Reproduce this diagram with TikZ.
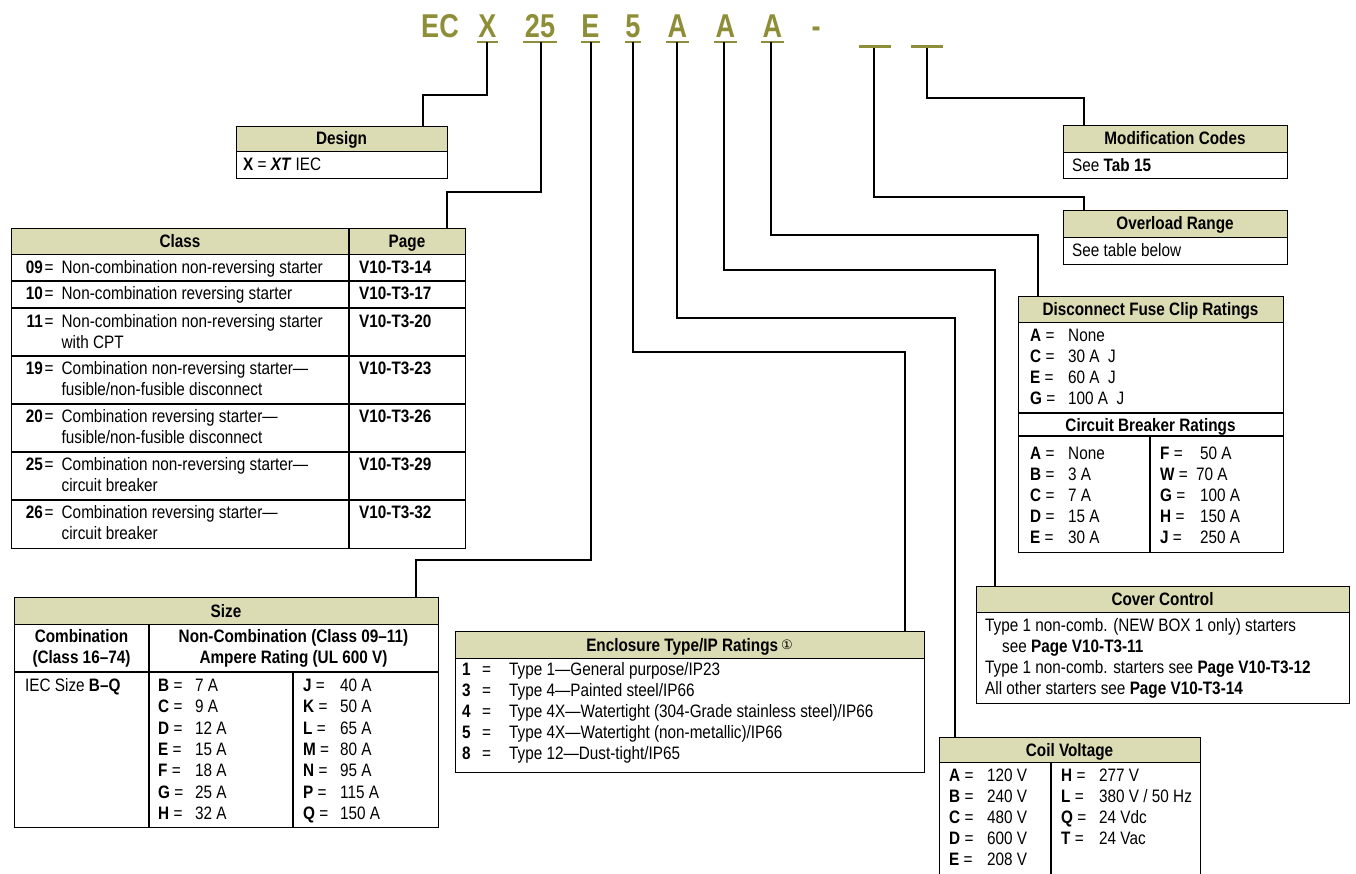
\documentclass[tikz,border=0pt]{standalone}
\usepackage{fontspec}
\setmainfont[FakeStretch=0.85]{Liberation Sans}
\newfontfamily\titlefont[FakeStretch=0.82]{Liberation Sans}
\newfontfamily\symfont{DejaVu Sans}
\definecolor{titleolive}{RGB}{142,142,56}
\definecolor{hdrfill}{RGB}{220,220,180}
\begin{document}
\begin{tikzpicture}[x=1pt,y=-1pt,
  conn/.style={line width=2pt},
  rule/.style={line width=1.1pt},
  frame/.style={draw, line width=1.1pt, inner sep=0pt, anchor=north west},
  hdr/.style={draw, fill=hdrfill, line width=1.1pt, inner sep=0pt, anchor=north west},
  txt/.style={anchor=base west, inner sep=0pt, font=\fontsize{18}{21}\selectfont},
  txte/.style={anchor=base east, inner sep=0pt, font=\bfseries\fontsize{18}{21}\selectfont},
  hd/.style={anchor=base, inner sep=0pt, font=\bfseries\fontsize{18}{21}\selectfont},
  ttl/.style={anchor=base, inner sep=0pt, text=titleolive, font=\titlefont\bfseries\fontsize{33}{33}\selectfont},
  uline/.style={draw=titleolive, line width=2.5pt},
  blank/.style={draw=titleolive, line width=3pt}]
\useasboundingbox (0,0) rectangle (1356,874);
\fill[white] (0,0) rectangle (1356,874);

% ---------- title ----------
\node[ttl] (tEC) at (440,37.5) {EC};
\node[ttl] (tX) at (487.5,37.5) {X};
\node[ttl] (t25) at (540,37.5) {25};
\node[ttl] (tE) at (590.5,37.5) {E};
\node[ttl] (t5) at (633,37.5) {5};
\node[ttl] (tA1) at (677.5,37.5) {A};
\node[ttl] (tA2) at (725.5,37.5) {A};
\node[ttl] (tA3) at (772.5,37.5) {A};
\node[ttl] (tdash) at (816,37.5) {-};
\draw[uline] (477,42) -- (498,42);
\draw[uline] (523,42) -- (557,42);
\draw[uline] (581,42) -- (600,42);
\draw[uline] (625,42) -- (641,42);
\draw[uline] (666,42) -- (689,42);
\draw[uline] (714,42) -- (737,42);
\draw[uline] (761,42) -- (784,42);
\draw[blank] (859,47) -- (891,47);
\draw[blank] (911,47) -- (943,47);

\coordinate (uX) at (487,42);
\coordinate (u25) at (540.5,42);
\coordinate (uE) at (591,42);
\coordinate (u5) at (633,42);
\coordinate (uA1) at (677,42);
\coordinate (uA2) at (724,42);
\coordinate (uA3) at (771,42);
\coordinate (uB1) at (874,48);
\coordinate (uB2) at (926.5,48);

% ---------- Design ----------
\node[frame, minimum width=211pt, minimum height=52pt] (design) at (236,126) {};
\node[hdr, minimum width=211pt, minimum height=25pt] (designh) at (236,126) {};
\node[hd] (designt) at (341.5,145) {Design};
\node[txt] (designb) at (243,171) {\textbf{X} = \textbf{\textit{XT}} IEC};

% ---------- Modification Codes ----------
\node[frame, minimum width=224pt, minimum height=53pt] (mod) at (1063,125) {};
\node[hdr, minimum width=224pt, minimum height=27pt] (modh) at (1063,125) {};
\node[hd] (modt) at (1175,145) {Modification Codes};
\node[txt] (modb) at (1072,171.5) {See \textbf{Tab 15}};

% ---------- Overload Range ----------
\node[frame, minimum width=224pt, minimum height=54pt] (ovl) at (1063,210) {};
\node[hdr, minimum width=224pt, minimum height=27pt] (ovlh) at (1063,210) {};
\node[hd] (ovlt) at (1175,230) {Overload Range};
\node[txt] (ovlb) at (1072,257) {See table below};

% ---------- Class table ----------
\node[frame, minimum width=454.5pt, minimum height=320pt] (cls) at (10.5,228) {};
\node[hdr, minimum width=454.5pt, minimum height=26pt] (clsh) at (10.5,228) {};
\draw[rule] (349,228) -- (349,548);
\foreach \yy in {281,308,356,404,452,500} \draw[rule] (10.5,\yy) -- (465,\yy);
\node[hd] (clst) at (180,247.5) {Class};
\node[hd] (pgt) at (407,247.5) {Page};

\node[txte] (n09) at (43,273.5) {09};
\node[txt] (e09) at (44.5,273.5) {=};
\node[txt] (d09) at (61.5,273.5) {Non-combination non-reversing starter};
\node[txt,font=\bfseries\fontsize{18}{21}\selectfont] (p09) at (359,273.5) {V10-T3-14};

\node[txte] (n10) at (43,299.5) {10};
\node[txt] (e10) at (44.5,299.5) {=};
\node[txt] (d10) at (61.5,299.5) {Non-combination reversing starter};
\node[txt,font=\bfseries\fontsize{18}{21}\selectfont] (p10) at (359,299.5) {V10-T3-17};

\node[txte] (n11) at (43,327.5) {11};
\node[txt] (e11) at (44.5,327.5) {=};
\node[txt] (d11) at (61.5,327.5) {Non-combination non-reversing starter};
\node[txt] (d11b) at (61.5,348.5) {with CPT};
\node[txt,font=\bfseries\fontsize{18}{21}\selectfont] (p11) at (359,327.5) {V10-T3-20};

\node[txte] (n19) at (43,374.5) {19};
\node[txt] (e19) at (44.5,374.5) {=};
\node[txt] (d19) at (61.5,374.5) {Combination non-reversing starter—};
\node[txt] (d19b) at (61.5,395.5) {fusible/non-fusible disconnect};
\node[txt,font=\bfseries\fontsize{18}{21}\selectfont] (p19) at (359,374.5) {V10-T3-23};

\node[txte] (n20) at (43,422.5) {20};
\node[txt] (e20) at (44.5,422.5) {=};
\node[txt] (d20) at (61.5,422.5) {Combination reversing starter—};
\node[txt] (d20b) at (61.5,443.5) {fusible/non-fusible disconnect};
\node[txt,font=\bfseries\fontsize{18}{21}\selectfont] (p20) at (359,422.5) {V10-T3-26};

\node[txte] (n25) at (43,470.5) {25};
\node[txt] (e25) at (44.5,470.5) {=};
\node[txt] (d25) at (61.5,470.5) {Combination non-reversing starter—};
\node[txt] (d25b) at (61.5,491.5) {circuit breaker};
\node[txt,font=\bfseries\fontsize{18}{21}\selectfont] (p25) at (359,470.5) {V10-T3-29};

\node[txte] (n26) at (43,518.5) {26};
\node[txt] (e26) at (44.5,518.5) {=};
\node[txt] (d26) at (61.5,518.5) {Combination reversing starter—};
\node[txt] (d26b) at (61.5,539.5) {circuit breaker};
\node[txt,font=\bfseries\fontsize{18}{21}\selectfont] (p26) at (359,518.5) {V10-T3-32};

% ---------- Size table ----------
\node[frame, minimum width=424pt, minimum height=230pt] (size) at (14,597) {};
\node[hdr, minimum width=424pt, minimum height=27pt] (sizeh) at (14,597) {};
\draw[rule] (14,672) -- (438,672);
\draw[rule] (149,624) -- (149,827);
\draw[rule] (293,672) -- (293,827);
\node[hd] (sizet) at (226,617) {Size};
\node[hd] (sc1) at (81.5,642.5) {Combination};
\node[hd] (sc2) at (81.5,663.5) {(Class 16–74)};
\node[hd] (sn1) at (293.5,642.5) {Non-Combination (Class 09–11)};
\node[hd] (sn2) at (293.5,663.5) {Ampere Rating (UL 600 V)};
\node[txt] (iec) at (25,691.5) {IEC Size \textbf{B–Q}};

\node[txt] (sB) at (158,691.5) {\textbf{B} =};   \node[txt] (vB) at (195,691.5) {7 A};
\node[txt] (sC) at (158,712.8) {\textbf{C} =};   \node[txt] (vC) at (195,712.8) {9 A};
\node[txt] (sD) at (158,734.1) {\textbf{D} =};   \node[txt] (vD) at (195,734.1) {12 A};
\node[txt] (sE) at (158,755.4) {\textbf{E} =};   \node[txt] (vE) at (195,755.4) {15 A};
\node[txt] (sF) at (158,776.7) {\textbf{F} =};   \node[txt] (vF) at (195,776.7) {18 A};
\node[txt] (sG) at (158,798.0) {\textbf{G} =};   \node[txt] (vG) at (195,798.0) {25 A};
\node[txt] (sH) at (158,819.3) {\textbf{H} =};   \node[txt] (vH) at (195,819.3) {32 A};
\node[txt] (sJ) at (303,691.5) {\textbf{J} =};   \node[txt] (vJ) at (340,691.5) {40 A};
\node[txt] (sK) at (303,712.8) {\textbf{K} =};   \node[txt] (vK) at (340,712.8) {50 A};
\node[txt] (sL) at (303,734.1) {\textbf{L} =};   \node[txt] (vL) at (340,734.1) {65 A};
\node[txt] (sM) at (303,755.4) {\textbf{M} =};   \node[txt] (vM) at (340,755.4) {80 A};
\node[txt] (sN) at (303,776.7) {\textbf{N} =};   \node[txt] (vN) at (340,776.7) {95 A};
\node[txt] (sP) at (303,798.0) {\textbf{P} =};   \node[txt] (vP) at (340,798.0) {115 A};
\node[txt] (sQ) at (303,819.3) {\textbf{Q} =};   \node[txt] (vQ) at (340,819.3) {150 A};

% ---------- Enclosure ----------
\node[frame, minimum width=469pt, minimum height=141pt] (enc) at (455,631) {};
\node[hdr, minimum width=469pt, minimum height=27pt] (ench) at (455,631) {};
\node[hd] (enct) at (689.5,651) {Enclosure Type/IP Ratings\,{\mdseries\symfont\fontsize{13}{13}\selectfont\raisebox{2pt}{①}}};
\node[txt,font=\bfseries\fontsize{18}{21}\selectfont] (k1) at (462,675.5) {1};
\node[txt] (q1) at (482,675.5) {=};
\node[txt] (w1) at (509,675.5) {Type 1—General purpose/IP23};
\node[txt,font=\bfseries\fontsize{18}{21}\selectfont] (k3) at (462,696.5) {3};
\node[txt] (q3) at (482,696.5) {=};
\node[txt] (w3) at (509,696.5) {Type 4—Painted steel/IP66};
\node[txt,font=\bfseries\fontsize{18}{21}\selectfont] (k4) at (462,717.5) {4};
\node[txt] (q4) at (482,717.5) {=};
\node[txt] (w4) at (509,717.5) {Type 4X—Watertight (304-Grade stainless steel)/IP66};
\node[txt,font=\bfseries\fontsize{18}{21}\selectfont] (k5) at (462,738.5) {5};
\node[txt] (q5) at (482,738.5) {=};
\node[txt] (w5) at (509,738.5) {Type 4X—Watertight (non-metallic)/IP66};
\node[txt,font=\bfseries\fontsize{18}{21}\selectfont] (k8) at (462,759.5) {8};
\node[txt] (q8) at (482,759.5) {=};
\node[txt] (w8) at (509,759.5) {Type 12—Dust-tight/IP65};

% ---------- Disconnect / Circuit breaker ----------
\node[frame, minimum width=265pt, minimum height=256pt] (disc) at (1018,296) {};
\node[hdr, minimum width=265pt, minimum height=26pt] (disch) at (1018,296) {};
\draw[rule] (1018,413) -- (1283,413);
\draw[rule] (1018,436) -- (1283,436);
\draw[rule] (1150,436) -- (1150,552);
\node[hd] (disct) at (1150.5,315.5) {Disconnect Fuse Clip Ratings};
\node[txt] (fA) at (1030,341.5) {\textbf{A} =};  \node[txt] (fvA) at (1068,341.5) {None};
\node[txt] (fC) at (1030,362.5) {\textbf{C} =};  \node[txt] (fvC) at (1068,362.5) {30 A\ \ J};
\node[txt] (fE) at (1030,383.5) {\textbf{E} =};  \node[txt] (fvE) at (1068,383.5) {60 A\ \ J};
\node[txt] (fG) at (1030,404.5) {\textbf{G} =};  \node[txt] (fvG) at (1068,404.5) {100 A\ \ J};
\node[hd] (cbt) at (1150.5,431) {Circuit Breaker Ratings};
\node[txt] (bA) at (1030,459.5) {\textbf{A} =};  \node[txt] (bvA) at (1068,459.5) {None};
\node[txt] (bB) at (1030,480.5) {\textbf{B} =};  \node[txt] (bvB) at (1068,480.5) {3 A};
\node[txt] (bC) at (1030,501.5) {\textbf{C} =};  \node[txt] (bvC) at (1068,501.5) {7 A};
\node[txt] (bD) at (1030,522.5) {\textbf{D} =};  \node[txt] (bvD) at (1068,522.5) {15 A};
\node[txt] (bE) at (1030,543.5) {\textbf{E} =};  \node[txt] (bvE) at (1068,543.5) {30 A};
\node[txt] (bF) at (1160,459.5) {\textbf{F} =};  \node[txt] (bvF) at (1200,459.5) {50 A};
\node[txt] (bW) at (1160,480.5) {\textbf{W} =};  \node[txt] (bvW) at (1196,480.5) {70 A};
\node[txt] (bG) at (1160,501.5) {\textbf{G} =};  \node[txt] (bvG) at (1200,501.5) {100 A};
\node[txt] (bH) at (1160,522.5) {\textbf{H} =};  \node[txt] (bvH) at (1200,522.5) {150 A};
\node[txt] (bJ) at (1160,543.5) {\textbf{J} =};  \node[txt] (bvJ) at (1200,543.5) {250 A};

% ---------- Cover Control ----------
\node[frame, minimum width=373pt, minimum height=117pt] (cov) at (976,586) {};
\node[hdr, minimum width=373pt, minimum height=26pt] (covh) at (976,586) {};
\node[hd] (covt) at (1162.5,605.5) {Cover Control};
\node[txt] (cv1) at (985,631) {Type 1 non-comb. (NEW BOX 1 only) starters};
\node[txt] (cv2) at (1002,652) {see \textbf{Page V10-T3-11}};
\node[txt] (cv3) at (985,673) {Type 1 non-comb. starters see \textbf{Page V10-T3-12}};
\node[txt] (cv4) at (985,694) {All other starters see \textbf{Page V10-T3-14}};

% ---------- Coil Voltage ----------
\node[frame, minimum width=261pt, minimum height=150pt] (coil) at (939,737) {};
\node[hdr, minimum width=261pt, minimum height=25pt] (coilh) at (939,737) {};
\draw[rule] (1051,762) -- (1051,887);
\node[hd] (coilt) at (1069.5,756) {Coil Voltage};
\node[txt] (cA) at (949,781.5) {\textbf{A} =};  \node[txt] (cvA) at (987,781.5) {120 V};
\node[txt] (cB) at (949,802.5) {\textbf{B} =};  \node[txt] (cvB) at (987,802.5) {240 V};
\node[txt] (cC) at (949,823.5) {\textbf{C} =};  \node[txt] (cvC) at (987,823.5) {480 V};
\node[txt] (cD) at (949,844.5) {\textbf{D} =};  \node[txt] (cvD) at (987,844.5) {600 V};
\node[txt] (cE) at (949,865.5) {\textbf{E} =};  \node[txt] (cvE) at (987,865.5) {208 V};
\node[txt] (cH) at (1061,781.5) {\textbf{H} =};  \node[txt] (cvH) at (1099,781.5) {277 V};
\node[txt] (cL) at (1061,802.5) {\textbf{L} =};  \node[txt] (cvL) at (1099,802.5) {380 V / 50 Hz};
\node[txt] (cQ) at (1061,823.5) {\textbf{Q} =};  \node[txt] (cvQ) at (1099,823.5) {24 Vdc};
\node[txt] (cT) at (1061,844.5) {\textbf{T} =};  \node[txt] (cvT) at (1099,844.5) {24 Vac};

% ---------- connectors ----------
\coordinate (kX) at (423,95);
\coordinate (k25) at (447,192);
\coordinate (kE) at (416,560);
\coordinate (k5) at (905,352);
\coordinate (kA1) at (955,318);
\coordinate (kA2) at (995,270);
\coordinate (kA3) at (1038,235);
\coordinate (kB1) at (1084,197);
\coordinate (kB2) at (1084,98);
\draw[conn] (uX) |- (kX) -- (kX |- design.north);
\draw[conn] (u25) |- (k25) -- (k25 |- cls.north);
\draw[conn] (uE) |- (kE) -- (kE |- size.north);
\draw[conn] (u5) |- (k5) -- (k5 |- enc.north);
\draw[conn] (uA1) |- (kA1) -- (kA1 |- coil.north);
\draw[conn] (uA2) |- (kA2) -- (kA2 |- cov.north);
\draw[conn] (uA3) |- (kA3) -- (kA3 |- disc.north);
\draw[conn] (uB1) |- (kB1) -- (kB1 |- ovl.north);
\draw[conn] (uB2) |- (kB2) -- (kB2 |- mod.north);
\end{tikzpicture}
\end{document}
